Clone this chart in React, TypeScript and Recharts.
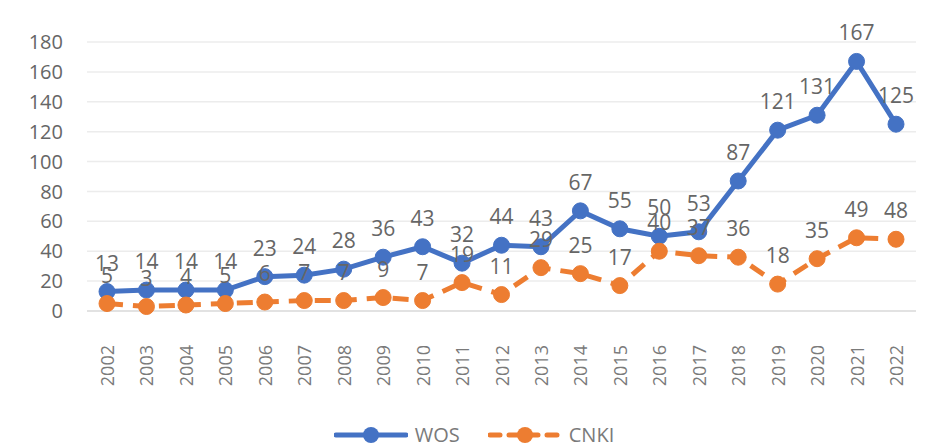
import { LineChart, Line, XAxis, YAxis, CartesianGrid, LabelList, Legend } from "recharts";

const years = [
  "2002", "2003", "2004", "2005", "2006", "2007", "2008", "2009", "2010", "2011",
  "2012", "2013", "2014", "2015", "2016", "2017", "2018", "2019", "2020", "2021", "2022",
];
const wos = [13, 14, 14, 14, 23, 24, 28, 36, 43, 32, 44, 43, 67, 55, 50, 53, 87, 121, 131, 167, 125];
const cnki = [5, 3, 4, 5, 6, 7, 7, 9, 7, 19, 11, 29, 25, 17, 40, 37, 36, 18, 35, 49, 48];
const yTicks = [0, 20, 40, 60, 80, 100, 120, 140, 160, 180];

const BLUE = "#4472c4";
const ORANGE = "#ed7d31";
const GREY = "#666666";
const FONT = "'Open Sans', sans-serif";

const data = years.map((y, i) => ({ year: y, WOS: wos[i], CNKI: cnki[i] }));

function YearTick({ x, y, payload }: any) {
  return (
    <text
      x={x}
      y={y}
      transform={`rotate(-90 ${x} ${y})`}
      textAnchor="end"
      dominantBaseline="central"
      fill="#7a7a7a"
      fontSize={18}
      fontFamily={FONT}
    >
      {payload.value}
    </text>
  );
}

function LegendContent() {
  const item = (name: string, color: string, dashed: boolean) => (
    <div style={{ display: "flex", alignItems: "center", marginRight: 28 }}>
      <svg width={74} height={20}>
        <line
          x1={2}
          y1={10}
          x2={72}
          y2={10}
          stroke={color}
          strokeWidth={5}
          strokeLinecap="round"
          strokeDasharray={dashed ? "10 9" : undefined}
        />
        <circle cx={37} cy={10} r={8} fill={color} />
      </svg>
      <span style={{ color: "#7a7a7a", fontSize: 20, fontFamily: FONT, marginLeft: 7 }}>{name}</span>
    </div>
  );
  return (
    <div style={{ display: "flex", justifyContent: "center", paddingLeft: 52 }}>
      {item("WOS", BLUE, false)}
      {item("CNKI", ORANGE, true)}
    </div>
  );
}

export default function App() {
  return (
    <LineChart
      width={920}
      height={440}
      data={data}
      margin={{ top: 34, right: 12, left: 0, bottom: 0 }}
    >
      <CartesianGrid vertical={false} stroke="#ececec" strokeWidth={1.5} />
      <XAxis
        dataKey="year"
        tick={<YearTick />}
        tickLine={false}
        axisLine={{ stroke: "#dcdcdc", strokeWidth: 1.5 }}
        tickSize={0}
        tickMargin={34}
        interval={0}
        height={110}
        padding={{ left: 20, right: 20 }}
      />
      <YAxis
        domain={[0, 180]}
        ticks={yTicks}
        width={79}
        axisLine={false}
        tickLine={false}
        tickSize={0}
        tickMargin={24}
        tick={{ fill: GREY, fontSize: 20, fontFamily: FONT }}
      />
      <Legend verticalAlign="bottom" content={<LegendContent />} />
      <Line
        dataKey="WOS"
        stroke={BLUE}
        strokeWidth={5}
        dot={{ r: 8, fill: BLUE, stroke: BLUE, strokeWidth: 1 }}
        isAnimationActive={false}
      >
        <LabelList dataKey="WOS" position="top" offset={21} fill={GREY} fontSize={21} fontFamily={FONT} />
      </Line>
      <Line
        dataKey="CNKI"
        stroke={ORANGE}
        strokeWidth={5}
        strokeDasharray="16 10"
        dot={{ r: 8, fill: ORANGE, stroke: ORANGE, strokeWidth: 1, strokeDasharray: "" }}
        isAnimationActive={false}
      >
        <LabelList dataKey="CNKI" position="top" offset={21} fill={GREY} fontSize={21} fontFamily={FONT} />
      </Line>
    </LineChart>
  );
}
